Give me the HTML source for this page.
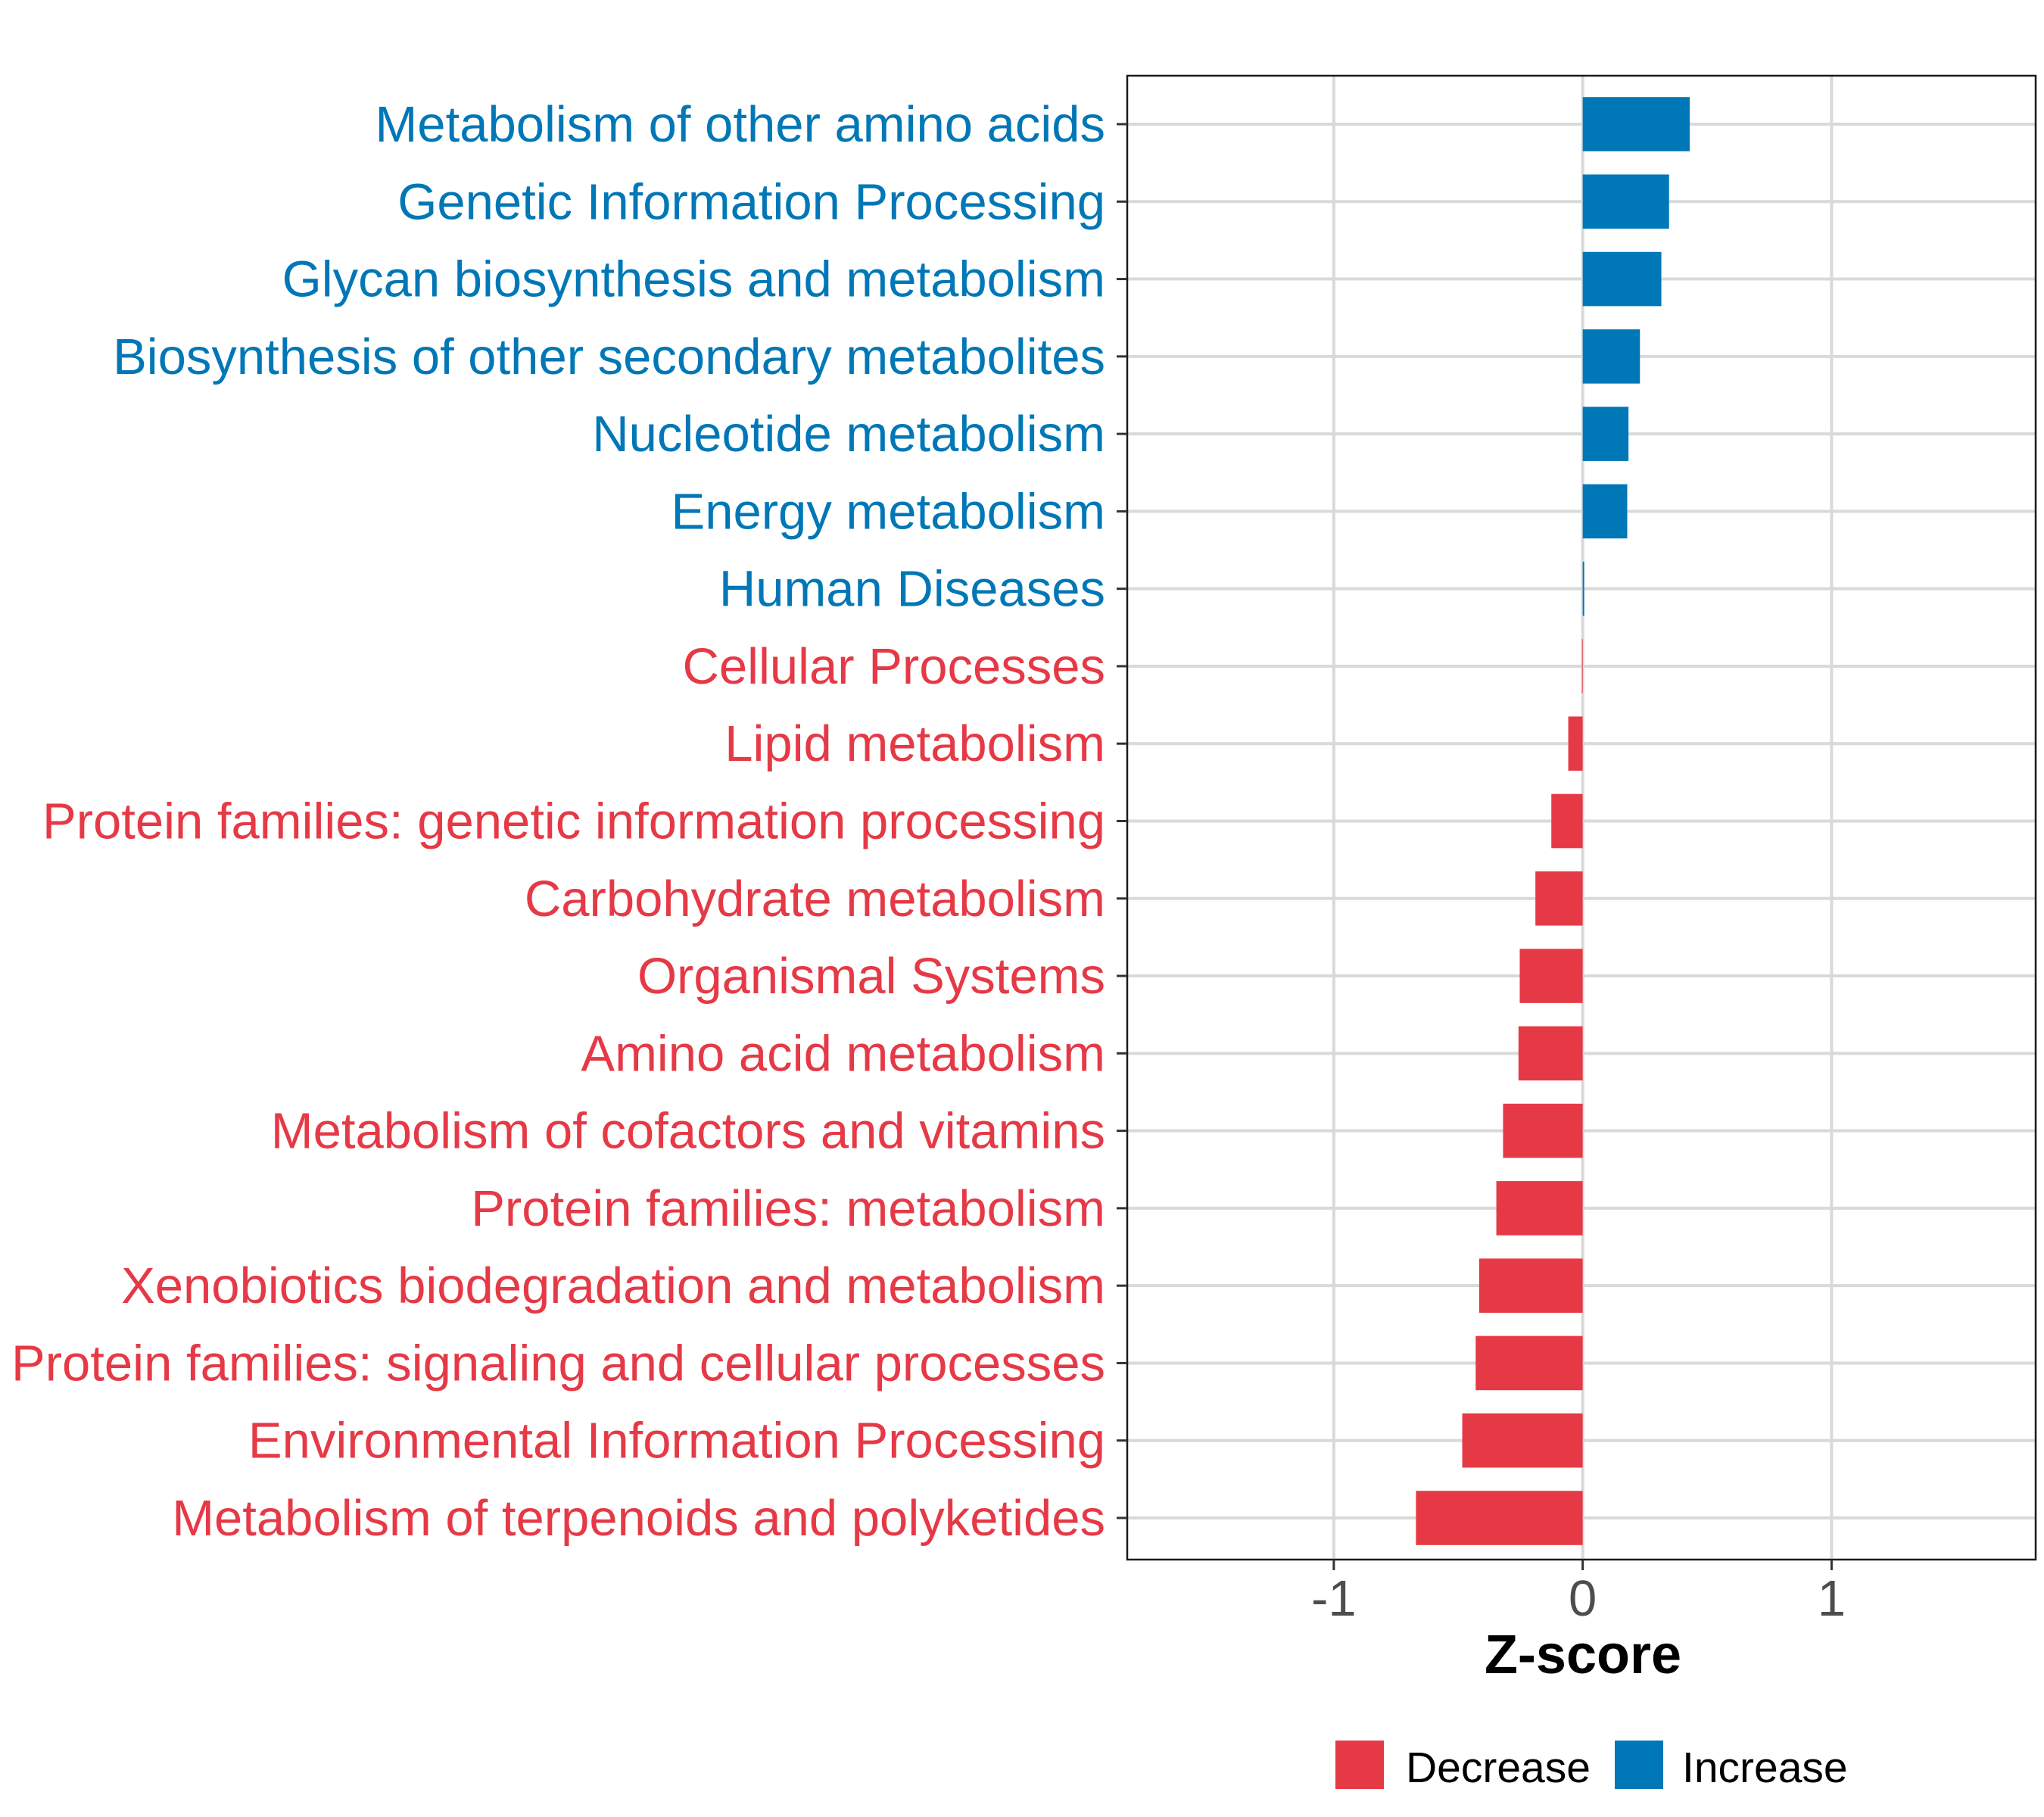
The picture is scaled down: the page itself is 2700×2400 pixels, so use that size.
<!DOCTYPE html>
<html><head><meta charset="utf-8"><style>
body{margin:0;background:#fff}
svg{display:block;font-family:"Liberation Sans",Arial,sans-serif}
</style></head><body>
<svg id="chart" width="2700" height="2400" viewBox="0 0 2700 2400" xmlns="http://www.w3.org/2000/svg">
<rect width="2700" height="2400" fill="#fff"/>
<g id="grid"></g>
<g id="bars"></g>
<rect x="1489" y="100" width="1200" height="1960" fill="none" stroke="#1a1a1a" stroke-width="2.5"/>
<g id="ylabels"></g>
<g id="xticks"></g>
<text x="2091" y="2210" text-anchor="middle" font-size="72" font-weight="bold" fill="#000">Z-score</text>
<g>
<rect x="1764" y="2299" width="64" height="64" fill="#E63946"/>
<text x="1857" y="2354" font-size="57" fill="#000">Decrease</text>
<rect x="2133" y="2299" width="64" height="64" fill="#0077B6"/>
<text x="2222" y="2354" font-size="57" fill="#000">Increase</text>
</g>
</svg>
<script>
const categories = ["Metabolism of other amino acids","Genetic Information Processing","Glycan biosynthesis and metabolism","Biosynthesis of other secondary metabolites","Nucleotide metabolism","Energy metabolism","Human Diseases","Cellular Processes","Lipid metabolism","Protein families: genetic information processing","Carbohydrate metabolism","Organismal Systems","Amino acid metabolism","Metabolism of cofactors and vitamins","Protein families: metabolism","Xenobiotics biodegradation and metabolism","Protein families: signaling and cellular processes","Environmental Information Processing","Metabolism of terpenoids and polyketides"];
const zscores = [0.43,0.347,0.316,0.23,0.184,0.179,0.006,-0.003,-0.058,-0.126,-0.19,-0.253,-0.258,-0.32,-0.347,-0.416,-0.43,-0.484,-0.67];
const xTicks = [-1,0,1];
const xTickLabels = ["-1","0","1"];

const NS="http://www.w3.org/2000/svg";
const PL=1489,PR=2689,PT=100,PB=2060;
const XMIN=-1.83,XMAX=1.82;
const xs=v=>PL+(v-XMIN)/(XMAX-XMIN)*(PR-PL);
const y0=164,step=(2005-164)/(categories.length-1);
const ys=i=>y0+i*step;
const RED="#E63946",BLUE="#0077B6";
function mk(tag,attrs,parent){const e=document.createElementNS(NS,tag);for(const k in attrs)e.setAttribute(k,attrs[k]);parent.appendChild(e);return e;}
const grid=document.getElementById('grid'),bars=document.getElementById('bars'),yl=document.getElementById('ylabels'),xt=document.getElementById('xticks');
xTicks.forEach((t,i)=>{
  const l=mk('line',{x1:xs(t),x2:xs(t),y1:PT,y2:PB,stroke:'#d9d9d9','stroke-width':4},grid);
  
  
  const tk=mk('line',{x1:xs(t),x2:xs(t),y1:PB,y2:PB+14,stroke:'#333','stroke-width':3},xt);
  
  
  const tx=mk('text',{x:xs(t),y:2134,'text-anchor':'middle','font-size':67,fill:'#4d4d4d'},xt);
  tx.textContent=xTickLabels[i];
  
  
});
categories.forEach((c,i)=>{
  const y=ys(i),v=zscores[i],col=v>=0?BLUE:RED;
  const g=mk('line',{x1:PL,x2:PR,y1:y,y2:y,stroke:'#d9d9d9','stroke-width':4},grid);
  
  
  const h=step*0.7;
  const x1=Math.min(xs(0),xs(v)),w=Math.max(Math.abs(xs(v)-xs(0)),1);
  const b=mk('rect',{x:x1,y:y-h/2,width:w,height:h,fill:col},bars);
  
  
  const tk=mk('line',{x1:PL-14,x2:PL,y1:y,y2:y,stroke:'#333','stroke-width':3},yl);
  
  
  const t=mk('text',{x:1460,y:y+23,'text-anchor':'end','font-size':67,fill:col},yl);
  t.textContent=c;
  
  
});
</script>
</body></html>
